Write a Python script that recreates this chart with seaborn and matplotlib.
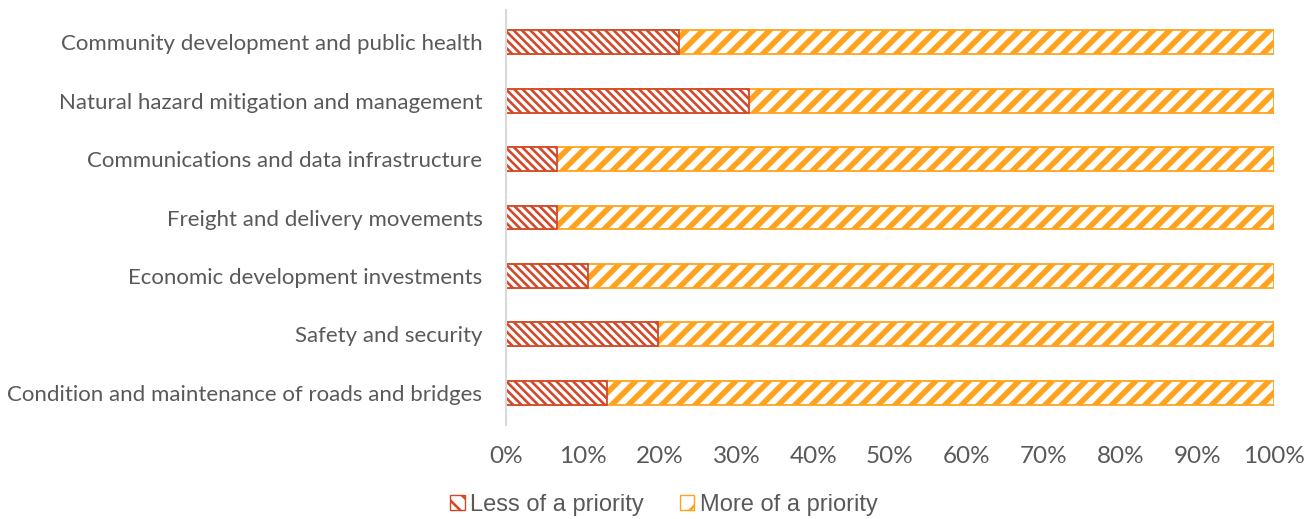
import pandas as pd
import seaborn as sns
import matplotlib.pyplot as plt
import matplotlib.ticker as ticker
from matplotlib.patches import Patch

# --- data ---
categories = [
    'Community development and public health',
    'Natural hazard mitigation and management',
    'Communications and data infrastructure',
    'Freight and delivery movements',
    'Economic development investments',
    'Safety and security',
    'Condition and maintenance of roads and bridges',
]
less_priority = [22.5, 31.6, 6.6, 6.6, 10.7, 19.8, 13.2]
more_priority = [100 - v for v in less_priority]

df = pd.DataFrame({'Category': categories,
                   'Less': less_priority,
                   'More': more_priority})
df['Total'] = df['Less'] + df['More']

RED = '#D24A2A'
ORANGE = '#FFA31F'

sns.set_theme(style='white')
plt.rcParams['hatch.linewidth'] = 1.9

fig = plt.figure(figsize=(13.16, 5.19), dpi=100)
ax = fig.add_axes([506 / 1316, 1 - 425 / 519, 768 / 1316, 415 / 519])

# stacked: total first (orange), then the "less" part on top (red)
sns.barplot(data=df, y='Category', x='Total', color=ORANGE, width=0.41,
            errorbar=None, ax=ax)
sns.barplot(data=df, y='Category', x='Less', color=RED, width=0.41,
            errorbar=None, ax=ax)

n = len(categories)
for i, bar in enumerate(ax.patches):
    col = ORANGE if i < n else RED
    bar.set_facecolor('white')
    bar.set_edgecolor(col)
    bar.set_linewidth(1.3)
    bar.set_hatch('//' if i < n else '\\' * 4)
    if i < n and hasattr(bar, 'set_hatch_linewidth'):
        bar.set_hatch_linewidth(4.0)

ax.set_xlim(0, 100)
ax.set_ylim(n - 0.5 + 0.05, -0.5 - 0.05)
ax.set_xticks(range(0, 101, 10))
ax.xaxis.set_major_formatter(ticker.FuncFormatter(lambda x, pos: '{:.0f}%'.format(x)))
ax.set_xlabel('')
ax.set_ylabel('')
ax.tick_params(axis='x', length=0, pad=15, labelsize=17.5, labelcolor='#595959')
ax.tick_params(axis='y', length=0, pad=17, labelsize=16, labelcolor='#595959')
for lab in ax.get_xticklabels() + ax.get_yticklabels():
    lab.set_fontfamily('Lato')

for s in ['top', 'right', 'bottom']:
    ax.spines[s].set_visible(False)
ax.spines['left'].set_color('#D9D9D9')
ax.spines['left'].set_linewidth(1.5)

handles = [Patch(facecolor='white', edgecolor=RED, hatch='\\\\', label='Less of a priority'),
           Patch(facecolor='white', edgecolor=ORANGE, hatch='/', label='More of a priority')]
leg = fig.legend(handles=handles, loc='center', bbox_to_anchor=(664 / 1316, 1 - 505 / 519),
                 ncol=2, frameon=False, handlelength=0.6, handleheight=0.6,
                 handletextpad=0.25, columnspacing=1.5,
                 prop={'family': 'Liberation Sans', 'size': 17})
for t in leg.get_texts():
    t.set_color('#595959')

plt.savefig('out.png', dpi=100)
